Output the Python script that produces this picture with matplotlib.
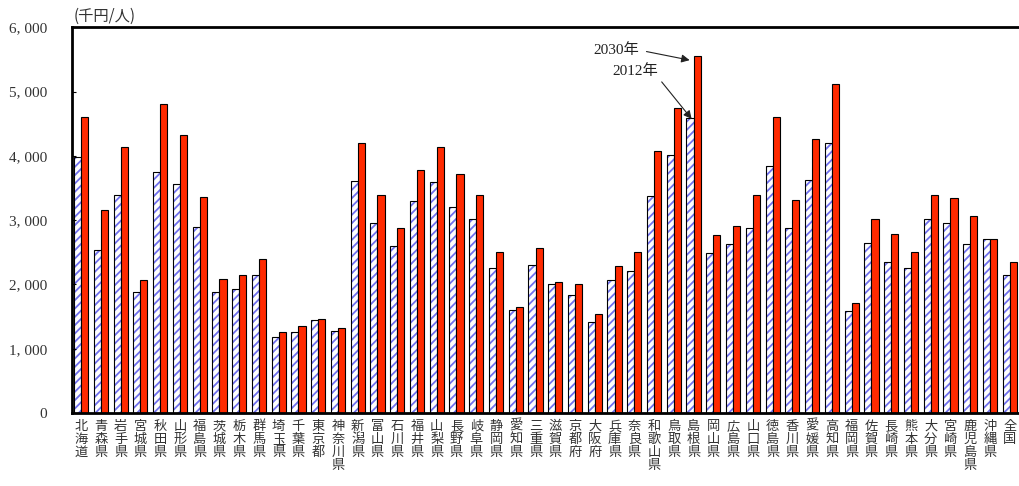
import matplotlib.pyplot as plt
from matplotlib.ticker import FuncFormatter

# 都道府県別の値（千円/人）
prefs = ["北海道", "青森県", "岩手県", "宮城県", "秋田県", "山形県", "福島県", "茨城県",
         "栃木県", "群馬県", "埼玉県", "千葉県", "東京都", "神奈川県", "新潟県", "富山県",
         "石川県", "福井県", "山梨県", "長野県", "岐阜県", "静岡県", "愛知県", "三重県",
         "滋賀県", "京都府", "大阪府", "兵庫県", "奈良県", "和歌山県", "鳥取県", "島根県",
         "岡山県", "広島県", "山口県", "徳島県", "香川県", "愛媛県", "高知県", "福岡県",
         "佐賀県", "長崎県", "熊本県", "大分県", "宮崎県", "鹿児島県", "沖縄県", "全国"]

v2012 = [3980, 2540, 3395, 1890, 3750, 3560, 2890, 1890,
         1930, 2140, 1180, 1255, 1450, 1280, 3610, 2955,
         2605, 3300, 3600, 3210, 3025, 2260, 1610, 2305,
         2000, 1840, 1420, 2070, 2210, 3370, 4020, 4595,
         2490, 2630, 2885, 3835, 2885, 3630, 4205, 1580,
         2650, 2350, 2260, 3020, 2950, 2630, 2700, 2145]

v2030 = [4600, 3160, 4140, 2070, 4810, 4330, 3365, 2090,
         2140, 2390, 1255, 1350, 1470, 1330, 4205, 3395,
         2885, 3780, 4145, 3720, 3395, 2510, 1655, 2560,
         2045, 2000, 1540, 2280, 2510, 4070, 4745, 5550,
         2765, 2905, 3395, 4605, 3320, 4265, 5110, 1715,
         3025, 2790, 2510, 3395, 3350, 3070, 2700, 2350]

yticks = [0, 1000, 2000, 3000, 4000, 5000, 6000]

plt.rcParams["hatch.linewidth"] = 1.3
plt.rcParams["font.family"] = ["Liberation Serif", "Noto Sans CJK JP"]

fig = plt.figure(figsize=(10.2, 4.86), dpi=100)
ax = fig.add_axes([0.0706, 0.150, 0.929, 0.794])

x = list(range(len(prefs)))
w = 0.36
xb = [i - w / 2 for i in x]
xr = [i + w / 2 for i in x]

# 2012年: 白地に青の斜線
ax.bar(xb, v2012, width=w, color="white", edgecolor="#7070ee", hatch="////", linewidth=0)
ax.bar(xb, v2012, width=w, fill=False, edgecolor="black", linewidth=0.8)
# 2030年: 赤
ax.bar(xr, v2030, width=w, color="#ff2a00", edgecolor="black", linewidth=0.8)

ax.set_xlim(-0.46, 47.5)
ax.set_ylim(0, 6000)
ax.set_yticks(yticks)
ax.yaxis.set_major_formatter(FuncFormatter(lambda v, p: f"{int(v):,}".replace(",", ", ")))
ax.tick_params(axis="y", direction="in", length=3, width=0.8, pad=18,
               labelsize=11, labelcolor="#333333")
ax.set_xticks(x)
ax.set_xticklabels(["\n".join(p) for p in prefs], family="Noto Sans CJK JP",
                   fontsize=9.5, linespacing=1.0, va="top", color="#333333")
ax.tick_params(axis="x", length=0, pad=5)

for s in ["left", "bottom", "top"]:
    ax.spines[s].set_linewidth(2)
ax.spines["right"].set_visible(False)

ax.text(-0.4, 6040, "(千円/人)", fontsize=11, va="bottom", ha="left", color="#333333",
        family=["Noto Sans CJK JP"])

ax.annotate("2030年", xy=(30.8, 5488), xytext=(27.11, 5643), fontsize=11,
            ha="center", va="center", color="#222222",
            arrowprops=dict(arrowstyle="-|>", color="#222222", lw=0.8,
                            mutation_scale=12, shrinkA=3, shrinkB=0, relpos=(1, 0.5)))
ax.annotate("2012年", xy=(30.9, 4574), xytext=(28.07, 5318), fontsize=11,
            ha="center", va="center", color="#222222",
            arrowprops=dict(arrowstyle="-|>", color="#222222", lw=0.8,
                            mutation_scale=12, shrinkA=1, shrinkB=0, relpos=(1, 0)))

fig.savefig("out.png", dpi=100)
